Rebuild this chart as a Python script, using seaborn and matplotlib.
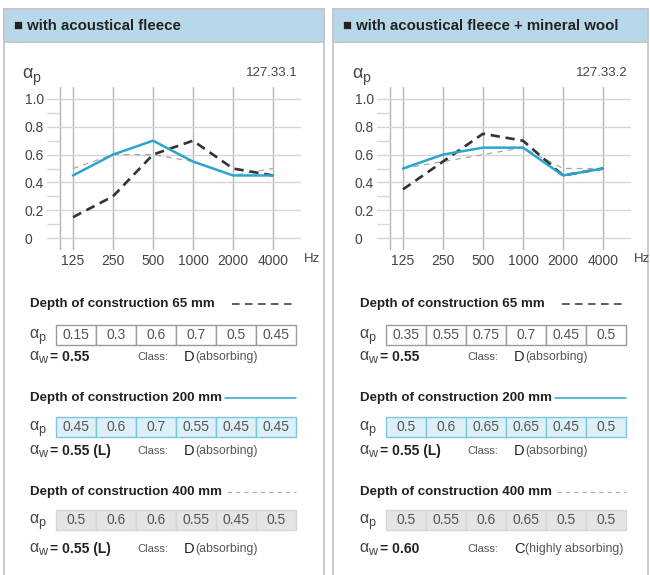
import numpy as np
import pandas as pd
import seaborn as sns
import matplotlib.pyplot as plt
from matplotlib.patches import Rectangle

# data
freqs = [125, 250, 500, 1000, 2000, 4000]
depths = ['65 mm', '200 mm', '400 mm']

fleece_65 = [0.15, 0.3, 0.6, 0.7, 0.5, 0.45]
fleece_200 = [0.45, 0.6, 0.7, 0.55, 0.45, 0.45]
fleece_400 = [0.5, 0.6, 0.6, 0.55, 0.45, 0.5]

wool_65 = [0.35, 0.55, 0.75, 0.7, 0.45, 0.5]
wool_200 = [0.5, 0.6, 0.65, 0.65, 0.45, 0.5]
wool_400 = [0.5, 0.55, 0.6, 0.65, 0.5, 0.5]

fleece_aw = ['0.55', '0.55 (L)', '0.55 (L)']
fleece_class = ['D', 'D', 'D']
fleece_class_txt = ['(absorbing)', '(absorbing)', '(absorbing)']
wool_aw = ['0.55', '0.55 (L)', '0.60']
wool_class = ['D', 'D', 'C']
wool_class_txt = ['(absorbing)', '(absorbing)', '(highly absorbing)']

panels = [
    dict(title='with acoustical fleece', code='127.33.1',
         series=[fleece_65, fleece_200, fleece_400],
         aw=fleece_aw, cls=fleece_class, cls_txt=fleece_class_txt),
    dict(title='with acoustical fleece + mineral wool', code='127.33.2',
         series=[wool_65, wool_200, wool_400],
         aw=wool_aw, cls=wool_class, cls_txt=wool_class_txt),
]

sns.set_theme(style='white')
plt.rcParams['font.family'] = ['Liberation Sans', 'DejaVu Sans']

W, H = 650, 575
fig = plt.figure(figsize=(6.5, 5.75), dpi=100)
bg = fig.add_axes([0, 0, 1, 1])
bg.set_xlim(0, W)
bg.set_ylim(H, 0)
bg.axis('off')

BLUE = '#2ba5cc'
styles = [
    dict(color='#333333', lw=1.9, dashes=(3.5, 2.2)),
    dict(color=BLUE, lw=1.8, dashes=''),
    dict(color='#a8a8a8', lw=0.9, dashes=(4.5, 4)),
]
row_style = [
    dict(fc='white', ec='#9a9a9a'),
    dict(fc='#ddf0f8', ec='#7cc6de'),
    dict(fc='#e4e4e4', ec='#d6d6d6'),
]
head_y = [304, 398, 492]
row_y = [335, 427, 520]
aw_y = [357, 451, 549]
key_x = [232, 225, 227]

# log2 axis: 40 px per octave
x_lo = 125 * 2 ** (-26 / 40)
x_hi = 4000 * 2 ** (28 / 40)
x_frame = 125 * 2 ** (-13 / 40)


def alpha_label(x, y, sub, size):
    bg.text(x, y, '\u03b1', fontsize=size, color='#444444', va='baseline', zorder=3)
    bg.text(x + size * 0.78, y + size * 0.28, sub, fontsize=size * 0.78,
            color='#444444', va='baseline', zorder=3)


for k, p in enumerate(panels):
    dx = 330 * k
    bx = 4 + 329 * k
    pw = 315 if k else 320
    # panel frame + header
    bg.add_patch(Rectangle((bx, 9), pw, 600, fc='white', ec='#c6c6c6', lw=1.3, zorder=1))
    bg.add_patch(Rectangle((bx, 9), pw, 33, fc='#b6d8e8', ec='#c6c6c6', lw=1.3, zorder=2))
    bg.text(bx + 10, 26, '\u25a0 ' + p['title'], fontsize=10.8, fontweight='bold',
            color='#222222', va='center', zorder=3)

    # chart
    left = 47 + dx
    ax = fig.add_axes([left / W, 1 - 250 / H, 254 / W, 163 / H])
    ax.set_xscale('log', base=2)
    ax.set_xlim(x_lo, x_hi)
    ax.set_ylim(-0.086, 1.086)
    for i in [2, 0, 1]:
        df = pd.DataFrame({'freq': freqs, 'alpha': p['series'][i]})
        st = styles[i]
        sns.lineplot(data=df, x='freq', y='alpha', ax=ax, color=st['color'],
                     lw=st['lw'], dashes=st['dashes'] if st['dashes'] else None)
    ax.set_xticks(freqs)
    ax.set_xticklabels([str(f) for f in freqs])
    ax.minorticks_off()
    ax.set_yticks([0, 0.2, 0.4, 0.6, 0.8, 1.0])
    ax.set_yticklabels(['0', '0.2', '0.4', '0.6', '0.8', '1.0'])
    ax.tick_params(axis='both', length=0, labelsize=10, labelcolor='#444444')
    ax.tick_params(axis='x', pad=3)
    ax.tick_params(axis='y', pad=16)
    for lbl in ax.get_yticklabels():
        lbl.set_ha('left')
    ax.grid(axis='x', color='#b4b4b4', lw=1)
    ax.grid(axis='y', color='#d6d6d6', lw=1)
    ax.axvline(x_frame, color='#b4b4b4', lw=1, zorder=0.5)
    ax.hlines([0.1, 0.3, 0.5, 0.7, 0.9], x_lo, x_frame, color='#d6d6d6', lw=1)
    ax.set_axisbelow(True)
    ax.set_xlabel('')
    ax.set_ylabel('')
    for s in ax.spines.values():
        s.set_visible(False)
    ax.patch.set_alpha(0)

    alpha_label(22 + dx, 78, 'p', 13)
    bg.text(298 + dx, 73, p['code'], fontsize=9.5, color='#444444', ha='right',
            va='center', zorder=3)
    bg.text(304 + dx, 259, 'Hz', fontsize=9.5, color='#444444', va='center', zorder=3)

    # value tables
    for i, d in enumerate(depths):
        st = styles[i]
        bg.text(30 + dx, head_y[i], 'Depth of construction ' + d, fontsize=9.6,
                fontweight='bold', color='#222222', va='center', zorder=3)
        bg.plot([key_x[i] + dx, 296 + dx], [head_y[i], head_y[i]], color=st['color'],
                lw=1.1 if i < 2 else 0.8,
                ls=(0, (5, 3.5)) if i == 0 else ('-' if i == 1 else (0, (4, 3.5))),
                zorder=3)
        alpha_label(29 + dx, row_y[i] + 3, 'p', 11.5)
        rs = row_style[i]
        for j, v in enumerate(p['series'][i]):
            cx = 56 + dx + 40 * j
            bg.add_patch(Rectangle((cx, row_y[i] - 10), 40, 20, fc=rs['fc'],
                                   ec=rs['ec'], lw=1, zorder=2))
            bg.text(cx + 20, row_y[i], f'{v:g}', fontsize=10, color='#555555',
                    ha='center', va='center', zorder=3)
        alpha_label(29 + dx, aw_y[i] + 3, 'w', 11.5)
        bg.text(50 + dx, aw_y[i], '= ' + p['aw'][i], fontsize=10, fontweight='bold',
                color='#222222', va='center', zorder=3)
        bg.text(137 + dx, aw_y[i], 'Class:', fontsize=8, color='#555555',
                va='center', zorder=3)
        bg.text(184 + dx, aw_y[i], p['cls'][i], fontsize=10.5, color='#222222',
                va='center', zorder=3)
        bg.text(195 + dx, aw_y[i], p['cls_txt'][i], fontsize=8.8, color='#555555',
                va='center', zorder=3)

fig.savefig('out.png', dpi=100, facecolor='white')
